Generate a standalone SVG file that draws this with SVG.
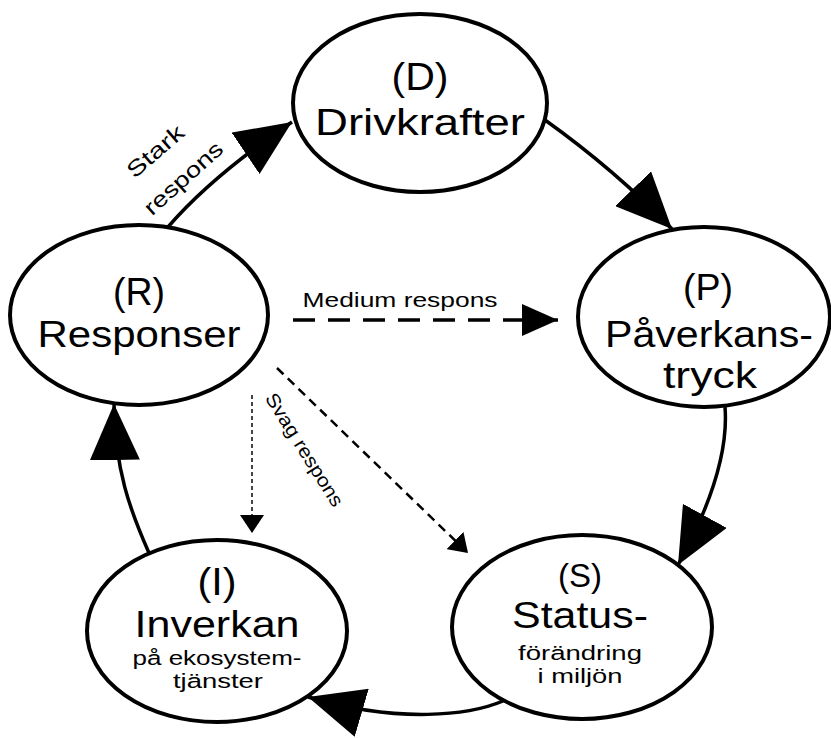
<svg xmlns="http://www.w3.org/2000/svg" width="831" height="738" viewBox="0 0 831 738">
<style>
.node{fill:#fff;stroke:#000;stroke-width:4}
.t{font-family:"Liberation Sans",Arial,sans-serif;fill:#000;text-anchor:middle}
.conn{fill:none;stroke:#000;stroke-width:3.5}
.med{fill:none;stroke:#000;stroke-width:3.5;stroke-dasharray:22 13}
.svag{fill:none;stroke:#000;stroke-width:2.5;stroke-dasharray:9 6}
.dot{fill:none;stroke:#444;stroke-width:2;stroke-dasharray:4 3}
</style>
<defs>
<marker id="big" viewBox="0 0 56 50" refX="56" refY="25" markerWidth="56" markerHeight="50" markerUnits="userSpaceOnUse" orient="auto"><path d="M0,0 L56,25 L0,50 Z" fill="#000"/></marker>
<marker id="mid" viewBox="0 0 36 32" refX="36" refY="16" markerWidth="36" markerHeight="32" markerUnits="userSpaceOnUse" orient="auto"><path d="M0,0 L36,16 L0,32 Z" fill="#000"/></marker>
<marker id="small" viewBox="0 0 18 24" refX="18" refY="12" markerWidth="18" markerHeight="24" markerUnits="userSpaceOnUse" orient="auto"><path d="M0,0 L18,12 L0,24 Z" fill="#000"/></marker>
</defs>
<g id="connectors">
<path class="conn" d="M168,227 Q212,176 292,122" marker-end="url(#big)"/>
<path class="conn" d="M545,120 Q615,170 672,229" marker-end="url(#big)"/>
<path class="conn" d="M725,407 Q730,470 678,565" marker-end="url(#big)"/>
<path class="conn" d="M503,701 C470,715 400,724 308,697" marker-end="url(#big)"/>
<path class="conn" d="M149,553 C130,510 115,470 114,404" marker-end="url(#big)"/>
<path class="med" d="M293,320 L558,320" marker-end="url(#mid)"/>
<path class="svag" d="M277,368 L468,553" marker-end="url(#small)"/>
<path class="dot" d="M252,395 L252,533" marker-end="url(#small)"/>
<text class="t" font-size="20" x="400" y="307" textLength="195" lengthAdjust="spacingAndGlyphs">Medium respons</text>
<g transform="translate(304,450) rotate(58)"><text class="t" font-size="19" x="0" y="6" textLength="130" lengthAdjust="spacingAndGlyphs">Svag respons</text></g>
<g transform="translate(155,151) rotate(-41)"><text class="t" font-size="22" x="0" y="8" textLength="68" lengthAdjust="spacingAndGlyphs">Stark</text></g>
<g transform="translate(185,180) rotate(-42)"><text class="t" font-size="22" x="0" y="5" textLength="98" lengthAdjust="spacingAndGlyphs">respons</text></g>
</g>
<g id="node-D">
<ellipse class="node" cx="420" cy="103" rx="127" ry="89"/>
<text class="t" font-size="38" x="420" y="90" textLength="57" lengthAdjust="spacingAndGlyphs">(D)</text>
<text class="t" font-size="37" x="420" y="135" textLength="210" lengthAdjust="spacingAndGlyphs">Drivkrafter</text>
</g>
<g id="node-P">
<ellipse class="node" cx="704" cy="317" rx="126" ry="90"/>
<text class="t" font-size="36" x="708" y="300" textLength="50" lengthAdjust="spacingAndGlyphs">(P)</text>
<text class="t" font-size="36.5" x="709" y="347" textLength="208" lengthAdjust="spacingAndGlyphs">Påverkans-</text>
<text class="t" font-size="36.5" x="710" y="388" textLength="94" lengthAdjust="spacingAndGlyphs">tryck</text>
</g>
<g id="node-R">
<ellipse class="node" cx="139" cy="315" rx="129" ry="90"/>
<text class="t" font-size="38" x="139" y="305" textLength="52" lengthAdjust="spacingAndGlyphs">(R)</text>
<text class="t" font-size="36.5" x="139" y="347" textLength="203" lengthAdjust="spacingAndGlyphs">Responser</text>
</g>
<g id="node-I">
<ellipse class="node" cx="217" cy="631" rx="130" ry="91"/>
<text class="t" font-size="38" x="217" y="595" textLength="39" lengthAdjust="spacingAndGlyphs">(I)</text>
<text class="t" font-size="37" x="217" y="637" textLength="165" lengthAdjust="spacingAndGlyphs">Inverkan</text>
<text class="t" font-size="20.5" x="217" y="665" textLength="169" lengthAdjust="spacingAndGlyphs">på ekosystem-</text>
<text class="t" font-size="20.5" x="218" y="688" textLength="90" lengthAdjust="spacingAndGlyphs">tjänster</text>
</g>
<g id="node-S">
<ellipse class="node" cx="582" cy="627" rx="130" ry="92"/>
<text class="t" font-size="34" x="580" y="587" textLength="44" lengthAdjust="spacingAndGlyphs">(S)</text>
<text class="t" font-size="37" x="580" y="628" textLength="136" lengthAdjust="spacingAndGlyphs">Status-</text>
<text class="t" font-size="20.5" x="580" y="660" textLength="124" lengthAdjust="spacingAndGlyphs">förändring</text>
<text class="t" font-size="20.5" x="580" y="683" textLength="85" lengthAdjust="spacingAndGlyphs">i miljön</text>
</g>
</svg>
